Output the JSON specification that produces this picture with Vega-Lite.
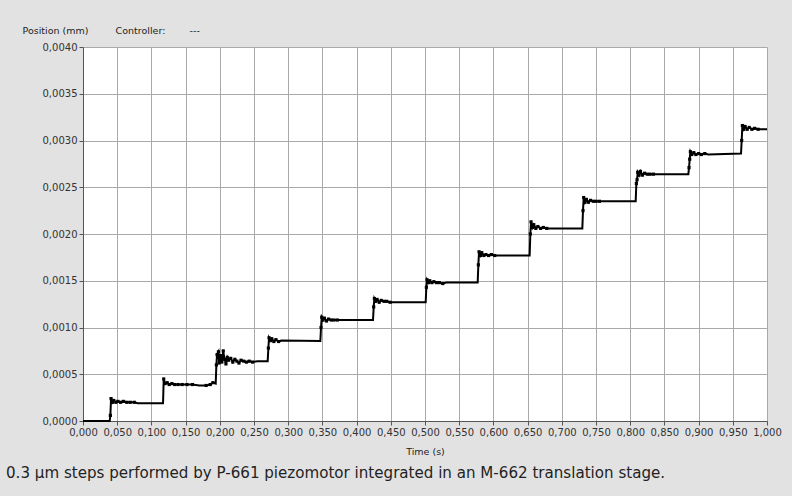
{
  "$schema": "https://vega.github.io/schema/vega-lite/v6.json",
  "width": 684,
  "height": 374,
  "autosize": {"type": "none"},
  "padding": {"left": 83, "top": 47, "right": 25, "bottom": 75},
  "background": "#e2e2e2",
  "title": {
    "text": "0.3 µm steps performed by P-661 piezomotor integrated in an M-662 translation stage.",
    "orient": "bottom",
    "anchor": "start",
    "frame": "group",
    "dx": -77,
    "offset": 10,
    "font": "DejaVu Sans",
    "fontSize": 15.1,
    "fontWeight": "normal",
    "color": "#222222"
  },
  "data": {
    "values": [
      {"t": 0.000, "pos": 0.0, "m": 0},
      {"t": 0.039, "pos": 0.0, "m": 0},
      {"t": 0.040, "pos": 0.00006, "m": 1},
      {"t": 0.041, "pos": 0.00024, "m": 1},
      {"t": 0.043, "pos": 0.00020, "m": 1},
      {"t": 0.045, "pos": 0.00022, "m": 1},
      {"t": 0.048, "pos": 0.00020, "m": 1},
      {"t": 0.051, "pos": 0.00021, "m": 1},
      {"t": 0.055, "pos": 0.00020, "m": 1},
      {"t": 0.059, "pos": 0.00021, "m": 1},
      {"t": 0.064, "pos": 0.00020, "m": 1},
      {"t": 0.069, "pos": 0.00020, "m": 1},
      {"t": 0.075, "pos": 0.00020, "m": 1},
      {"t": 0.080, "pos": 0.00019, "m": 0},
      {"t": 0.117, "pos": 0.00019, "m": 0},
      {"t": 0.118, "pos": 0.00045, "m": 1},
      {"t": 0.120, "pos": 0.00040, "m": 1},
      {"t": 0.123, "pos": 0.00041, "m": 1},
      {"t": 0.126, "pos": 0.00039, "m": 1},
      {"t": 0.130, "pos": 0.00040, "m": 1},
      {"t": 0.134, "pos": 0.00039, "m": 1},
      {"t": 0.139, "pos": 0.00039, "m": 1},
      {"t": 0.145, "pos": 0.00039, "m": 1},
      {"t": 0.152, "pos": 0.00039, "m": 1},
      {"t": 0.160, "pos": 0.00039, "m": 1},
      {"t": 0.170, "pos": 0.00038, "m": 0},
      {"t": 0.180, "pos": 0.00038, "m": 1},
      {"t": 0.186, "pos": 0.00039, "m": 1},
      {"t": 0.190, "pos": 0.00041, "m": 1},
      {"t": 0.194, "pos": 0.00040, "m": 0},
      {"t": 0.195, "pos": 0.00060, "m": 1},
      {"t": 0.196, "pos": 0.00071, "m": 1},
      {"t": 0.198, "pos": 0.00074, "m": 1},
      {"t": 0.199, "pos": 0.00062, "m": 1},
      {"t": 0.201, "pos": 0.00070, "m": 1},
      {"t": 0.203, "pos": 0.00063, "m": 1},
      {"t": 0.205, "pos": 0.00075, "m": 1},
      {"t": 0.207, "pos": 0.00066, "m": 1},
      {"t": 0.209, "pos": 0.00061, "m": 1},
      {"t": 0.211, "pos": 0.00068, "m": 1},
      {"t": 0.213, "pos": 0.00065, "m": 1},
      {"t": 0.216, "pos": 0.00067, "m": 1},
      {"t": 0.219, "pos": 0.00063, "m": 1},
      {"t": 0.222, "pos": 0.00066, "m": 1},
      {"t": 0.225, "pos": 0.00064, "m": 1},
      {"t": 0.228, "pos": 0.00062, "m": 1},
      {"t": 0.231, "pos": 0.00065, "m": 1},
      {"t": 0.235, "pos": 0.00064, "m": 1},
      {"t": 0.239, "pos": 0.00063, "m": 1},
      {"t": 0.243, "pos": 0.00064, "m": 1},
      {"t": 0.248, "pos": 0.00063, "m": 1},
      {"t": 0.255, "pos": 0.00064, "m": 0},
      {"t": 0.270, "pos": 0.00064, "m": 0},
      {"t": 0.271, "pos": 0.00078, "m": 1},
      {"t": 0.272, "pos": 0.00089, "m": 1},
      {"t": 0.274, "pos": 0.00086, "m": 1},
      {"t": 0.276, "pos": 0.00088, "m": 1},
      {"t": 0.279, "pos": 0.00085, "m": 1},
      {"t": 0.282, "pos": 0.00087, "m": 1},
      {"t": 0.286, "pos": 0.00085, "m": 1},
      {"t": 0.290, "pos": 0.00086, "m": 0},
      {"t": 0.347, "pos": 0.000855, "m": 0},
      {"t": 0.348, "pos": 0.00100, "m": 1},
      {"t": 0.349, "pos": 0.00111, "m": 1},
      {"t": 0.351, "pos": 0.00108, "m": 1},
      {"t": 0.353, "pos": 0.00110, "m": 1},
      {"t": 0.356, "pos": 0.00107, "m": 1},
      {"t": 0.359, "pos": 0.00109, "m": 1},
      {"t": 0.363, "pos": 0.00108, "m": 1},
      {"t": 0.367, "pos": 0.00108, "m": 1},
      {"t": 0.372, "pos": 0.00108, "m": 1},
      {"t": 0.377, "pos": 0.00108, "m": 0},
      {"t": 0.424, "pos": 0.00108, "m": 0},
      {"t": 0.425, "pos": 0.00122, "m": 1},
      {"t": 0.426, "pos": 0.00131, "m": 1},
      {"t": 0.428, "pos": 0.00128, "m": 1},
      {"t": 0.430, "pos": 0.00130, "m": 1},
      {"t": 0.433, "pos": 0.00127, "m": 1},
      {"t": 0.436, "pos": 0.00129, "m": 1},
      {"t": 0.440, "pos": 0.00128, "m": 1},
      {"t": 0.444, "pos": 0.00128, "m": 1},
      {"t": 0.449, "pos": 0.00127, "m": 1},
      {"t": 0.454, "pos": 0.00127, "m": 0},
      {"t": 0.501, "pos": 0.00127, "m": 0},
      {"t": 0.502, "pos": 0.00143, "m": 1},
      {"t": 0.503, "pos": 0.00151, "m": 1},
      {"t": 0.505, "pos": 0.00148, "m": 1},
      {"t": 0.507, "pos": 0.00150, "m": 1},
      {"t": 0.510, "pos": 0.00148, "m": 1},
      {"t": 0.513, "pos": 0.00149, "m": 1},
      {"t": 0.517, "pos": 0.00148, "m": 1},
      {"t": 0.521, "pos": 0.00148, "m": 1},
      {"t": 0.526, "pos": 0.00147, "m": 1},
      {"t": 0.531, "pos": 0.00148, "m": 0},
      {"t": 0.577, "pos": 0.00148, "m": 0},
      {"t": 0.578, "pos": 0.00167, "m": 1},
      {"t": 0.579, "pos": 0.00181, "m": 1},
      {"t": 0.581, "pos": 0.00177, "m": 1},
      {"t": 0.583, "pos": 0.00180, "m": 1},
      {"t": 0.586, "pos": 0.00177, "m": 1},
      {"t": 0.589, "pos": 0.00178, "m": 1},
      {"t": 0.593, "pos": 0.00177, "m": 1},
      {"t": 0.597, "pos": 0.00178, "m": 1},
      {"t": 0.602, "pos": 0.00177, "m": 1},
      {"t": 0.607, "pos": 0.00177, "m": 0},
      {"t": 0.653, "pos": 0.00177, "m": 0},
      {"t": 0.654, "pos": 0.00200, "m": 1},
      {"t": 0.655, "pos": 0.00213, "m": 1},
      {"t": 0.657, "pos": 0.00207, "m": 1},
      {"t": 0.659, "pos": 0.00210, "m": 1},
      {"t": 0.662, "pos": 0.00206, "m": 1},
      {"t": 0.665, "pos": 0.00208, "m": 1},
      {"t": 0.669, "pos": 0.00206, "m": 1},
      {"t": 0.673, "pos": 0.00207, "m": 1},
      {"t": 0.678, "pos": 0.00206, "m": 1},
      {"t": 0.683, "pos": 0.00206, "m": 0},
      {"t": 0.730, "pos": 0.00206, "m": 0},
      {"t": 0.731, "pos": 0.00225, "m": 1},
      {"t": 0.732, "pos": 0.00239, "m": 1},
      {"t": 0.734, "pos": 0.00234, "m": 1},
      {"t": 0.736, "pos": 0.00237, "m": 1},
      {"t": 0.739, "pos": 0.00234, "m": 1},
      {"t": 0.742, "pos": 0.00236, "m": 1},
      {"t": 0.746, "pos": 0.00235, "m": 1},
      {"t": 0.750, "pos": 0.00235, "m": 1},
      {"t": 0.755, "pos": 0.00235, "m": 1},
      {"t": 0.760, "pos": 0.00235, "m": 0},
      {"t": 0.808, "pos": 0.00235, "m": 0},
      {"t": 0.809, "pos": 0.00254, "m": 1},
      {"t": 0.810, "pos": 0.00258, "m": 1},
      {"t": 0.811, "pos": 0.00266, "m": 1},
      {"t": 0.813, "pos": 0.00263, "m": 1},
      {"t": 0.815, "pos": 0.00267, "m": 1},
      {"t": 0.818, "pos": 0.00263, "m": 1},
      {"t": 0.821, "pos": 0.00265, "m": 1},
      {"t": 0.825, "pos": 0.00264, "m": 1},
      {"t": 0.829, "pos": 0.00264, "m": 1},
      {"t": 0.834, "pos": 0.00264, "m": 1},
      {"t": 0.840, "pos": 0.00264, "m": 0},
      {"t": 0.885, "pos": 0.00264, "m": 0},
      {"t": 0.886, "pos": 0.00271, "m": 1},
      {"t": 0.887, "pos": 0.00280, "m": 1},
      {"t": 0.888, "pos": 0.00288, "m": 1},
      {"t": 0.890, "pos": 0.00285, "m": 1},
      {"t": 0.893, "pos": 0.00287, "m": 1},
      {"t": 0.896, "pos": 0.00285, "m": 1},
      {"t": 0.900, "pos": 0.00286, "m": 1},
      {"t": 0.904, "pos": 0.00285, "m": 1},
      {"t": 0.909, "pos": 0.00286, "m": 1},
      {"t": 0.914, "pos": 0.00285, "m": 0},
      {"t": 0.962, "pos": 0.00286, "m": 0},
      {"t": 0.963, "pos": 0.00300, "m": 1},
      {"t": 0.964, "pos": 0.00316, "m": 1},
      {"t": 0.966, "pos": 0.00312, "m": 1},
      {"t": 0.968, "pos": 0.00315, "m": 1},
      {"t": 0.971, "pos": 0.00312, "m": 1},
      {"t": 0.974, "pos": 0.00314, "m": 1},
      {"t": 0.978, "pos": 0.00312, "m": 1},
      {"t": 0.982, "pos": 0.00313, "m": 1},
      {"t": 0.987, "pos": 0.00312, "m": 1},
      {"t": 0.992, "pos": 0.00312, "m": 0},
      {"t": 1.000, "pos": 0.00312, "m": 0}
    ]
  },
  "encoding": {
    "x": {
      "field": "t",
      "type": "quantitative",
      "scale": {"domain": [0, 1], "nice": false, "zero": false},
      "axis": {
        "title": "Time (s)",
        "values": [0, 0.05, 0.1, 0.15, 0.2, 0.25, 0.3, 0.35, 0.4, 0.45, 0.5, 0.55, 0.6, 0.65, 0.7, 0.75, 0.8, 0.85, 0.9, 0.95, 1],
        "labelExpr": "replace(format(datum.value, '.3f'), '.', ',')",
        "labelFlush": false,
        "labelOverlap": false,
        "labelPadding": 2,
        "titlePadding": 9
      }
    },
    "y": {
      "field": "pos",
      "type": "quantitative",
      "scale": {"domain": [0, 0.004], "nice": false},
      "axis": {
        "title": "Position (mm)\u00a0\u00a0\u00a0\u00a0\u00a0\u00a0\u00a0\u00a0\u00a0Controller:\u00a0\u00a0\u00a0\u00a0\u00a0\u00a0\u00a0\u00a0---",
        "values": [0, 0.0005, 0.001, 0.0015, 0.002, 0.0025, 0.003, 0.0035, 0.004],
        "labelExpr": "replace(format(datum.value, '.4f'), '.', ',')",
        "labelPadding": 2,
        "titleAngle": 0,
        "titleAlign": "left",
        "titleBaseline": "alphabetic",
        "titleX": -61,
        "titleY": -14
      }
    }
  },
  "layer": [
    {
      "mark": {"type": "line", "color": "#000000", "strokeWidth": 2, "interpolate": "linear"}
    },
    {
      "transform": [{"filter": "datum.m == 1"}],
      "mark": {"type": "square", "color": "#000000", "filled": true, "size": 10, "opacity": 1}
    }
  ],
  "config": {
    "view": {"fill": "#ffffff", "stroke": null},
    "axis": {
      "labelFont": "DejaVu Sans",
      "labelFontSize": 10,
      "labelColor": "#333333",
      "titleFont": "DejaVu Sans",
      "titleFontSize": 9.5,
      "titleFontWeight": "normal",
      "titleColor": "#222222",
      "gridColor": "#a9a9a9",
      "gridWidth": 1,
      "gridOpacity": 1,
      "domainColor": "#555555",
      "domainWidth": 1,
      "tickColor": "#555555",
      "tickSize": 4,
      "tickWidth": 1
    }
  }
}
